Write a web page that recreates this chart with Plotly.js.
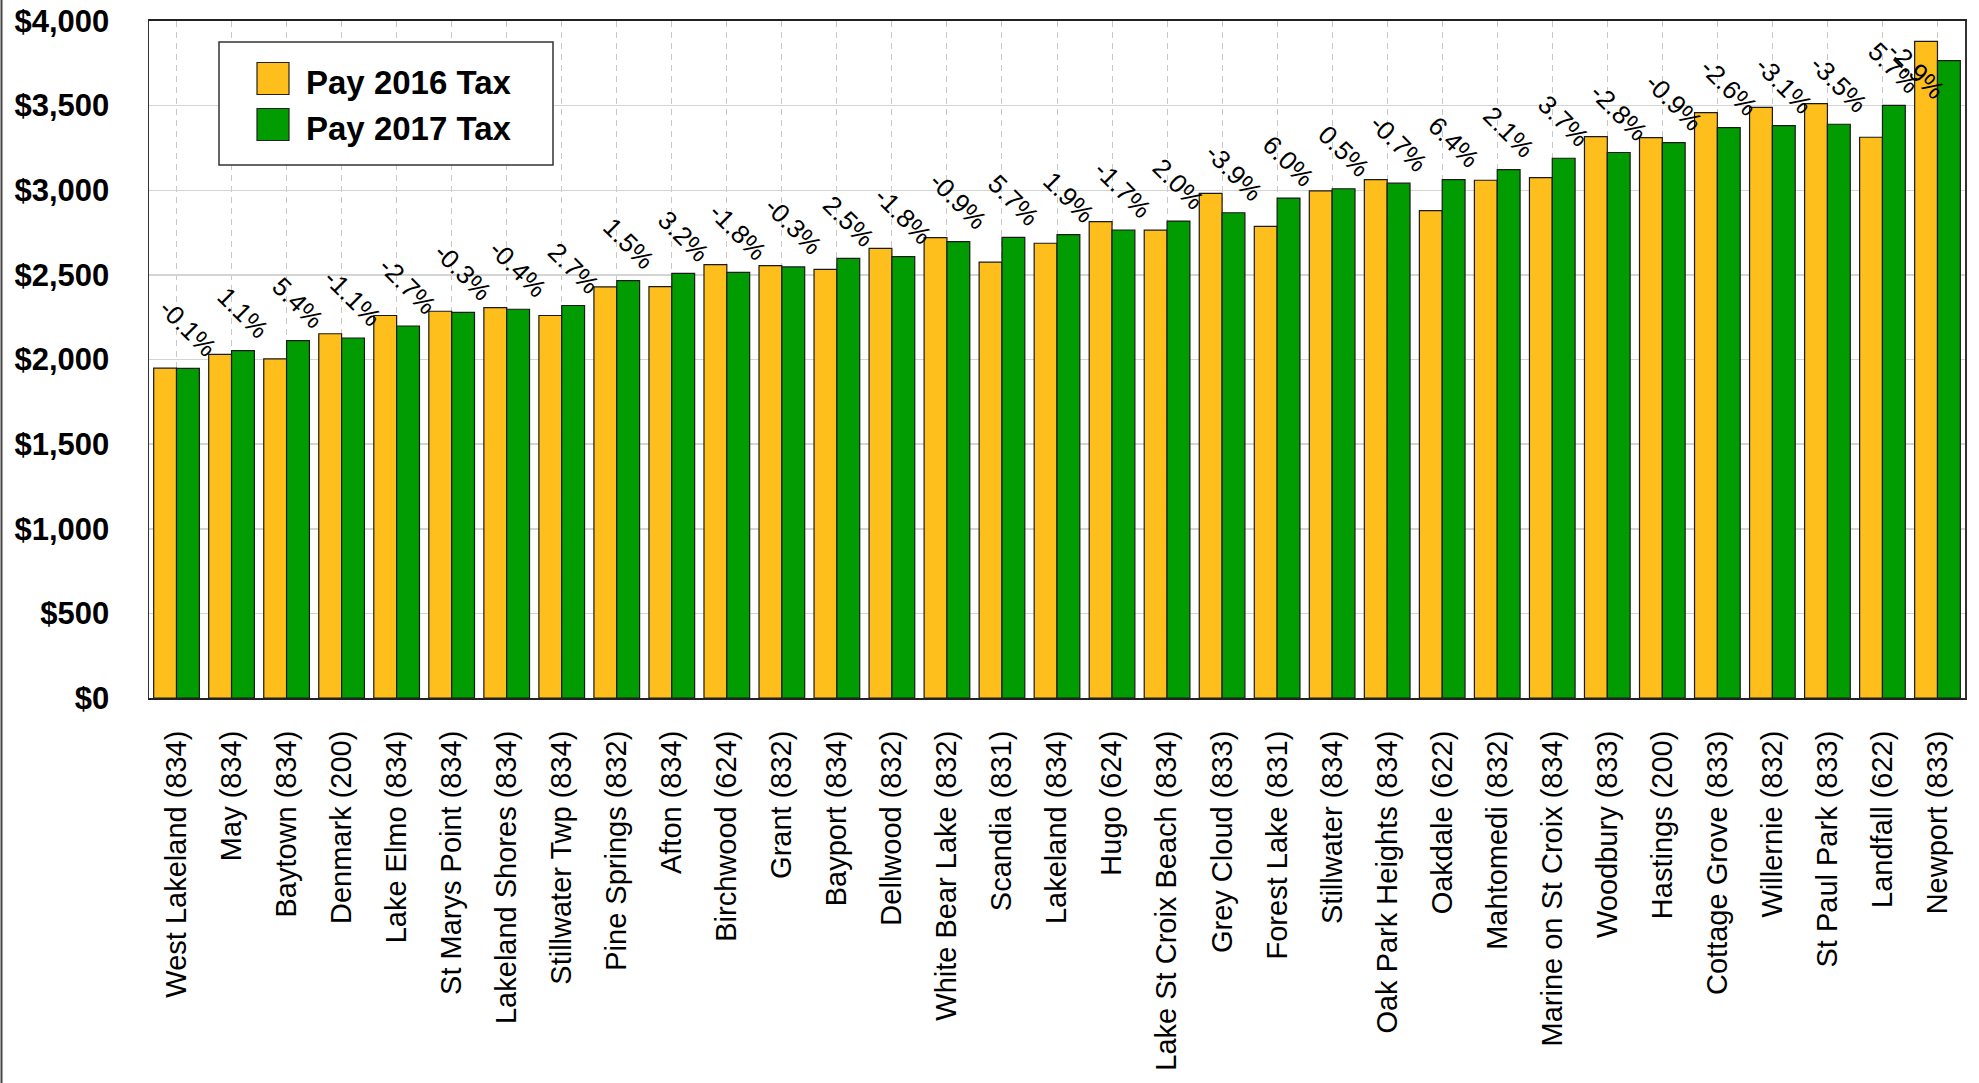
<!DOCTYPE html>
<html>
<head>
<meta charset="utf-8">
<script src="https://cdn.plot.ly/plotly-3.0.1.min.js"></script>
<style>
  html, body { margin: 0; padding: 0; background: #ffffff; }
  #chart { width: 1979px; height: 1083px; }
</style>
</head>
<body>
<div id="chart"></div>
<script>
// ---- Data ----
const categories = [
  "West Lakeland (834)", "May (834)", "Baytown (834)", "Denmark (200)", "Lake Elmo (834)",
  "St Marys Point (834)", "Lakeland Shores (834)", "Stillwater Twp (834)", "Pine Springs (832)",
  "Afton (834)", "Birchwood (624)", "Grant (832)", "Bayport (834)", "Dellwood (832)",
  "White Bear Lake (832)", "Scandia (831)", "Lakeland (834)", "Hugo (624)",
  "Lake St Croix Beach (834)", "Grey Cloud (833)", "Forest Lake (831)", "Stillwater (834)",
  "Oak Park Heights (834)", "Oakdale (622)", "Mahtomedi (832)", "Marine on St Croix (834)",
  "Woodbury (833)", "Hastings (200)", "Cottage Grove (833)", "Willernie (832)",
  "St Paul Park (833)", "Landfall (622)", "Newport (833)"
];
const pay2016 = [
  1949, 2030, 2004, 2152, 2260, 2285, 2307, 2260, 2429, 2431, 2561, 2555, 2533, 2656,
  2720, 2575, 2687, 2815, 2764, 2982, 2787, 2996, 3063, 2880, 3059, 3075, 3317, 3311,
  3459, 3490, 3512, 3313, 3880
];
const pay2017 = [
  1947, 2052, 2112, 2127, 2198, 2279, 2297, 2319, 2466, 2509, 2515, 2547, 2597, 2608,
  2696, 2722, 2738, 2765, 2818, 2867, 2954, 3009, 3042, 3063, 3122, 3189, 3223, 3281,
  3370, 3382, 3390, 3502, 3766
];
const pctLabels = [
  "-0.1%", "1.1%", "5.4%", "-1.1%", "-2.7%", "-0.3%", "-0.4%", "2.7%", "1.5%", "3.2%",
  "-1.8%", "-0.3%", "2.5%", "-1.8%", "-0.9%", "5.7%", "1.9%", "-1.7%", "2.0%", "-3.9%",
  "6.0%", "0.5%", "-0.7%", "6.4%", "2.1%", "3.7%", "-2.8%", "-0.9%", "-2.6%", "-3.1%",
  "-3.5%", "5.7%", "-2.9%"
];
const seriesNames = ["Pay 2016 Tax", "Pay 2017 Tax"];
const yTickVals = [0, 500, 1000, 1500, 2000, 2500, 3000, 3500, 4000];
const yTickText = ["$0", "$500", "$1,000", "$1,500", "$2,000", "$2,500", "$3,000", "$3,500", "$4,000"];

// ---- Style / layout constants ----
const W = 1979, H = 1083;
const M = { l: 149, r: 14, t: 21, b: 385 };
const plotW = W - M.l - M.r, plotH = H - M.t - M.b;
const yMax = 4000;
const BARGAP = 0.17;
const colors = ["#FEBE1B", "#019C01"];
const sans = "Liberation Sans, Arial, sans-serif";

const pxX = x => (x - M.l) / plotW;          // page px -> paper x
const pxY = y => (H - M.b - y) / plotH;       // page px -> paper y

const traces = [pay2016, pay2017].map((vals, i) => ({
  type: "bar",
  name: seriesNames[i],
  x: categories,
  y: vals,
  marker: { color: colors[i], line: { color: "#1a1a1a", width: 1.2 } },
  showlegend: false,
  hoverinfo: "x+y"
}));

// ---- percent labels above the 2017 bars ----
const catW = plotW / categories.length;
const greenOffset = (1 - BARGAP) / 4 * catW;
const labelGap = 3, labelBox = 54, pad = 12;
const annotations = pctLabels.map((t, i) => {
  const a = {
    text: t, showarrow: false, textangle: 45,
    font: { family: sans, size: 26, color: "#000" },
    xref: "x", yref: "y", x: categories[i], y: pay2017[i],
    xanchor: "center", yanchor: "bottom", xshift: greenOffset, yshift: labelGap
  };
  const topPx = M.t + plotH * (1 - pay2017[i] / yMax) - 10 - labelBox;
  if (topPx < M.t + pad) { a.yref = "paper"; a.y = 1; a.yanchor = "top"; a.yshift = -pad; }
  const rightPx = M.l + catW * (i + 0.5) + greenOffset + labelBox / 2;
  if (rightPx > M.l + plotW - pad) { a.xref = "paper"; a.x = 1; a.xanchor = "right"; a.xshift = -pad; }
  return a;
});

// ---- custom legend ----
const shapes = [];
shapes.push({ type: "rect", xref: "paper", yref: "paper", layer: "above",
  x0: pxX(219), x1: pxX(553), y0: pxY(165), y1: pxY(42),
  line: { color: "#333", width: 1.5 }, fillcolor: "#ffffff" });
const legendRows = [78.5, 124.5];
seriesNames.forEach((n, i) => {
  const cy = legendRows[i];
  shapes.push({ type: "rect", xref: "paper", yref: "paper", layer: "above",
    x0: pxX(257), x1: pxX(289), y0: pxY(cy + 16), y1: pxY(cy - 16),
    line: { color: "#222", width: 1.2 }, fillcolor: colors[i] });
  annotations.push({ text: "<b>" + n + "</b>", showarrow: false, xref: "paper", yref: "paper",
    x: pxX(304), y: pxY(cy + 4), xanchor: "left", yanchor: "middle",
    font: { family: sans, size: 33, color: "#000" } });
});
// frame line at left edge of the image
shapes.push({ type: "line", xref: "paper", yref: "paper", layer: "above",
  x0: pxX(1.5), x1: pxX(1.5), y0: pxY(H), y1: pxY(0), line: { color: "#444", width: 2 } });

const layout = {
  width: W, height: H,
  margin: M,
  paper_bgcolor: "#ffffff", plot_bgcolor: "#ffffff",
  barmode: "group", bargap: BARGAP, bargroupgap: 0,
  showlegend: false,
  xaxis: {
    type: "category",
    tickangle: -90,
    tickfont: { family: sans, size: 29, color: "#000" },
    showgrid: true, gridcolor: "#c8c8c8", gridwidth: 1, griddash: "6px,5px",
    showline: true, linecolor: "#222", linewidth: 2, mirror: true,
    ticks: "", ticklabelstandoff: 19,
    fixedrange: true
  },
  yaxis: {
    range: [0, yMax],
    tickmode: "array",
    tickvals: yTickVals,
    ticktext: yTickText,
    tickfont: { family: sans, size: 31, color: "#000", weight: "bold" },
    showgrid: true, gridcolor: "#d4d4d4", gridwidth: 1.5,
    showline: true, linecolor: "#333", linewidth: 1.5, mirror: true,
    zeroline: false,
    ticks: "", ticklabelstandoff: 32,
    fixedrange: true
  },
  shapes: shapes,
  annotations: annotations
};

Plotly.newPlot("chart", traces, layout, { displayModeBar: false, staticPlot: true });
</script>
</body>
</html>
